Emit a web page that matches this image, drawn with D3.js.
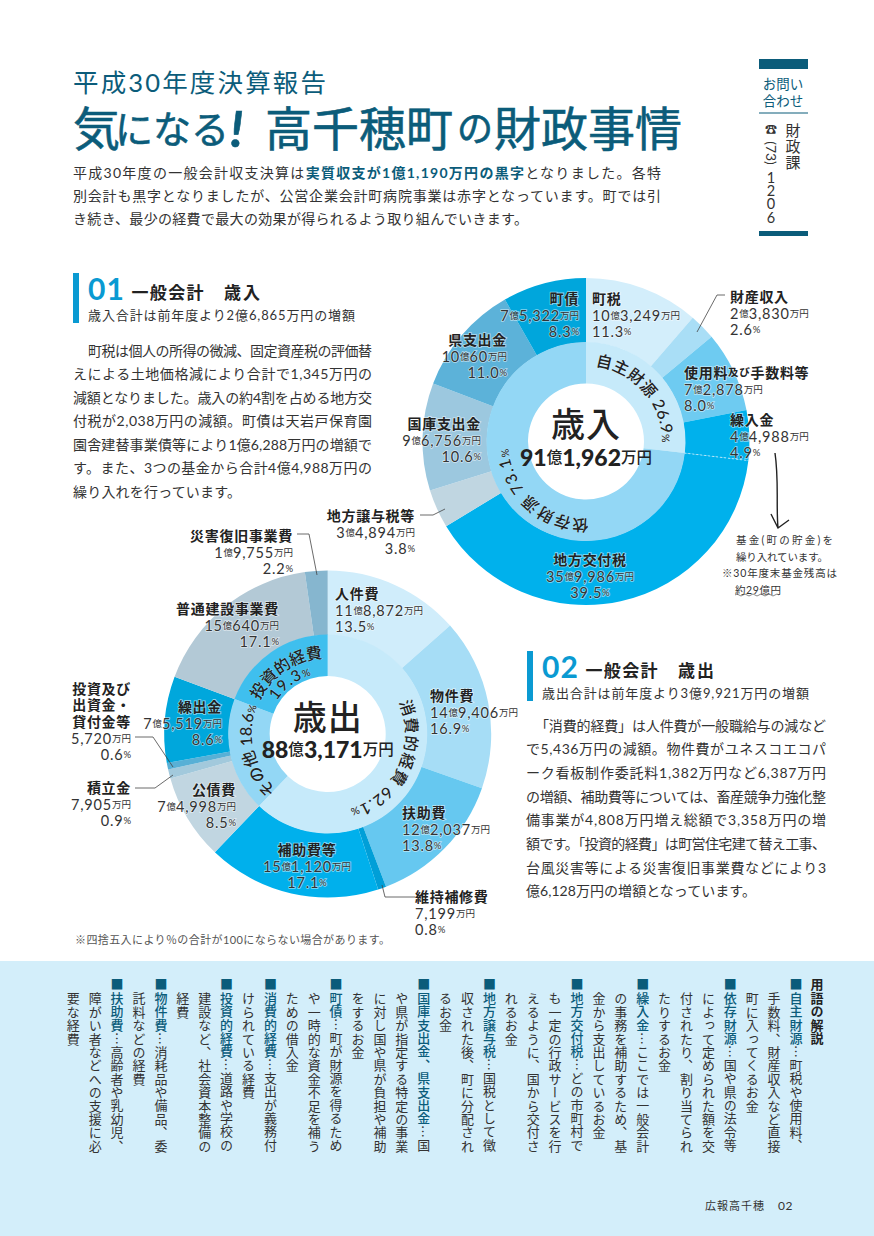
<!DOCTYPE html>
<html lang="ja"><head><meta charset="utf-8">
<script src="https://cdn.jsdelivr.net/npm/d3@7/dist/d3.min.js"></script>
<style>
html,body{margin:0;padding:0;background:#fff}
svg{display:block}
text{font-family:Lato,"Noto Sans CJK JP","Noto Sans",sans-serif}
</style></head><body><svg id="page" width="874" height="1236"></svg>
<script>
// ---- data ----
const revenueNames=["町税","財産収入","使用料及び手数料等","繰入金","地方交付税","地方譲与税等","国庫支出金","県支出金","町債"];
const revenueValues=[103249,23830,72878,44988,359986,34894,96756,100060,75322];
const revenueAmounts=["10億3,249万円","2億3,830万円","7億2,878万円","4億4,988万円","35億9,986万円","3億4,894万円","9億6,756万円","10億60万円","7億5,322万円"];
const revenuePercents=["11.3%","2.6%","8.0%","4.9%","39.5%","3.8%","10.6%","11.0%","8.3%"];
const revenueColors=["#d3eefb","#a9def6","#6ecbf1","#00b1ec","#00b1ec","#c0d6e1","#9cc8df","#5cb2d9","#00a6dc"];
const revenueGroups=["自主財源","依存財源"];
const revenueGroupValues=[244945,667018];
const revenueGroupPercents=["26.9%","73.1%"];
const revenueGroupColors=["#c6eafa","#93d7f5"];

const spendingNames=["人件費","物件費","扶助費","維持補修費","補助費等","公債費","積立金","投資及び出資金・貸付金等","繰出金","普通建設事業費","災害復旧事業費"];
const spendingValues=[118872,149406,122037,7199,151120,74998,7905,5720,75519,150640,19755];
const spendingAmounts=["11億8,872万円","14億9,406万円","12億2,037万円","7,199万円","15億1,120万円","7億4,998万円","7,905万円","5,720万円","7億5,519万円","15億640万円","1億9,755万円"];
const spendingPercents=["13.5%","16.9%","13.8%","0.8%","17.1%","8.5%","0.9%","0.6%","8.6%","17.1%","2.2%"];
const spendingColors=["#d0edfb","#a6ddf6","#66c8f0","#009fd8","#00b0ec","#c1d6e1","#a2c9dc","#58b0d6","#00a7dc","#b3c9d6","#86b6cf"];
const spendingGroups=["消費的経費","その他","投資的経費"];
const spendingGroupValues=[548634,164142,170395];
const spendingGroupPercents=["62.1%","18.6%","19.3%"];
const spendingGroupColors=["#c6eafa","#93d7f5","#3fbfee"];

const glossary=[
["自主財源","…町税や使用料、"],["","手数料、財産収入など直接"],["","町に入ってくるお金"],
["依存財源","…国や県の法令等"],["","によって定められた額を交"],["","付されたり、割り当てられ"],["","たりするお金"],
["繰入金","…ここでは一般会計"],["","の事務を補助するため、基"],["","金から支出しているお金"],
["地方交付税","…どの市町村で"],["","も一定の行政サービスを行"],["","えるように、国から交付さ"],["","れるお金"],
["地方譲与税","…国税として徴"],["","収された後、町に分配され"],["","るお金"],
["国庫支出金、県支出金","…国"],["","や県が指定する特定の事業"],["","に対し国や県が負担や補助"],["","をするお金"],
["町債","…町が財源を得るため"],["","や一時的な資金不足を補う"],["","ための借入金"],
["消費的経費","…支出が義務付"],["","けられている経費"],
["投資的経費","…道路や学校の"],["","建設など、社会資本整備の"],["","経費"],
["物件費","…消耗品や備品、委"],["","託料などの経費"],
["扶助費","…高齢者や乳幼児、"],["","障がい者などへの支援に必"],["","要な経費"]];

const para1=["町税は個人の所得の微減、固定資産税の評価替","えによる土地価格減により合計で1,345万円の","減額となりました。歳入の約4割を占める地方交","付税が2,038万円の減額。町債は天岩戸保育園","園舎建替事業債等により1億6,288万円の増額で","す。また、3つの基金から合計4億4,988万円の","繰り入れを行っています。"];
const para2=["「消費的経費」は人件費が一般職給与の減など","で5,436万円の減額。物件費がユネスコエコパ","ーク看板制作委託料1,382万円など6,387万円","の増額、補助費等については、畜産競争力強化整","備事業が4,808万円増え総額で3,358万円の増","額です。「投資的経費」は町営住宅建て替え工事、","台風災害等による災害復旧事業費などにより3","億6,128万円の増額となっています。"];

// ---- layout ----
const ink="#333", teal="#0b5c7a";
const svg=d3.select("#page");
svg.append("rect").attr("y",961).attr("width",874).attr("height",275).attr("fill","#d3eefa");

function t(x,y,str,o={}){
  const e=svg.append("text").attr("x",x).attr("y",y).text(str)
   .attr("font-size",o.size||14).attr("fill",o.fill||ink).attr("font-weight",o.weight||400)
   .attr("text-anchor",o.anchor||"start").attr("dominant-baseline","central");
  if(o.len) e.attr("textLength",o.len).attr("lengthAdjust","spacing");
  if(o.ls) e.attr("letter-spacing",o.ls);
  return e;
}
// heading block
t(73,82,"平成30年度決算報告",{size:25.5,fill:teal,len:253});
const title=svg.append("text").attr("y",128).attr("dominant-baseline","central").attr("fill",teal).attr("font-weight",400).attr("stroke",teal).attr("stroke-width",.6);
[["気",47,73],["になる",38,115],["!",50,230],["高千穂町",47,265],["の",36,457],["財政事情",47,494]].forEach(([s,z,x])=>{
  const sp=title.append("tspan").attr("font-size",z).attr("x",x).text(s);
  if(s==="!") sp.attr("font-style","italic").attr("font-weight",700);
});
const bodyL1=svg.append("text").attr("x",73).attr("y",172).attr("dominant-baseline","central").attr("font-size",14).attr("fill",ink).attr("textLength",588).attr("lengthAdjust","spacing");
bodyL1.append("tspan").text("平成30年度の一般会計収支決算は");
bodyL1.append("tspan").attr("fill",teal).attr("font-weight",700).text("実質収支が1億1,190万円の黒字");
bodyL1.append("tspan").text("となりました。各特");
t(73,195,"別会計も黒字となりましたが、公営企業会計町病院事業は赤字となっています。町では引",{size:14,len:588});
t(73,218,"き続き、最少の経費で最大の効果が得られるよう取り組んでいきます。",{size:14,len:455});

// contact column
svg.append("rect").attr("x",759).attr("y",59).attr("width",49).attr("height",10).attr("fill",teal);
svg.append("rect").attr("x",759).attr("y",231).attr("width",49).attr("height",5).attr("fill",teal);
svg.append("rect").attr("x",759).attr("y",112.5).attr("width",49).attr("height",1).attr("fill",teal);
t(783,84,"お問い",{size:13.5,fill:teal,anchor:"middle"});
t(783,101,"合わせ",{size:13.5,fill:teal,anchor:"middle"});
t(793,130,"財",{size:15,anchor:"middle"});t(793,146,"政",{size:15,anchor:"middle"});t(793,162,"課",{size:15,anchor:"middle"});
t(771,129,"☎",{size:12,anchor:"middle"});
svg.append("text").attr("transform","translate(771,153) rotate(90)").attr("text-anchor","middle").attr("dominant-baseline","central").attr("font-size",14).attr("fill",ink).text("(73)");
["1","2","0","6"].forEach((d,i)=>t(771,177+i*13.4,d,{size:14.5,anchor:"middle"}));

// section headings
function section(barX,barY,num,headA,headB,sub){
  svg.append("rect").attr("x",barX).attr("y",barY).attr("width",6).attr("height",50).attr("fill","#0a9ad2");
  t(barX+15,barY+15,num,{size:30,weight:700,fill:"#0a9ad2",ls:1});
  t(barX+58.5,barY+19,headA,{size:17,weight:700,fill:"#222",len:72});
  t(barX+151,barY+19,headB,{size:17,weight:700,fill:"#222",len:36});
  t(barX+15,barY+42,sub,{size:13,len:267});
}
section(73,273,"01","一般会計","歳入","歳入合計は前年度より2億6,865万円の増額");
section(527,651,"02","一般会計","歳出","歳出合計は前年度より3億9,921万円の増額");
para1.forEach((s,i)=>t(i?73:88,350+i*23.5,s,{size:14,len:i===6?168:(i?299:284)}));
para2.forEach((s,i)=>t(i?526:535,725+i*23.7,s,{size:14,len:i===7?230:(i?300:291)}));
t(75,939,"※四捨五入により％の合計が100にならない場合があります。",{size:11,fill:"#555",len:315});

// donuts
function donut(cx,cy,values,colors,groupValues,groupColors){
  const g=svg.append("g").attr("transform",`translate(${cx},${cy})`);
  const pie=d3.pie().sort(null).value(d=>d);
  const outer=d3.arc().innerRadius(99).outerRadius(163.5);
  const inner=d3.arc().innerRadius(58).outerRadius(99.5);
  g.selectAll(".o").data(pie(values)).join("path").attr("d",outer).attr("fill",(d,i)=>colors[i]);
  g.selectAll(".i").data(pie(groupValues)).join("path").attr("d",inner).attr("fill",(d,i)=>groupColors[i]);
  return pie;
}
const rev={cx:586,cy:441.5}, spe={cx:327.7,cy:734};
const revPie=donut(rev.cx,rev.cy,revenueValues,revenueColors,revenueGroupValues,revenueGroupColors);
donut(spe.cx,spe.cy,spendingValues,spendingColors,spendingGroupValues,spendingGroupColors);

// dashed boundary between 繰入金 and 地方交付税
{const a=revPie(revenueValues)[3].endAngle;
 const P=r=>[rev.cx+r*Math.sin(a),rev.cy-r*Math.cos(a)];
 const [x1,y1]=P(99),[x2,y2]=P(163.5);
 svg.append("line").attr("x1",x1).attr("y1",y1).attr("x2",x2).attr("y2",y2).attr("stroke","#d6f0fb").attr("stroke-width",.8).attr("stroke-dasharray","2 2");}

// curved ring titles
let arcId=0;
function curved(c,r,a0,a1,str,size,len,fill){
  const id="arc"+(arcId++), p=d3.path();
  const R=Math.PI/180;
  p.arc(c.cx,c.cy,r,(a0-90)*R,(a1-90)*R,false);
  svg.append("path").attr("id",id).attr("d",p.toString()).attr("fill","none");
  const e=svg.append("text").attr("font-size",size).attr("font-weight",500).attr("fill",fill||"#222")
    .attr("stroke","#fff").attr("stroke-opacity",.35).attr("stroke-width",.8).attr("paint-order","stroke");
  const tp=e.append("textPath").attr("href","#"+id).attr("textLength",len).attr("lengthAdjust","spacing");
  const m=str.match(/^(.*?)(%?)$/);
  tp.append("tspan").text(m[1]);
  if(m[2]) tp.append("tspan").attr("font-size",size*.65).text("%");
}
curved(rev,76,7,95,revenueGroups[0]+" "+revenueGroupPercents[0],16,111);
curved(rev,78,178,268,revenueGroups[1]+" "+revenueGroupPercents[1],16,118);
curved(spe,78,66,165,spendingGroups[0]+" "+spendingGroupPercents[0],16,132);
curved(spe,76,222,295,spendingGroups[1]+" "+spendingGroupPercents[1],16,92);
curved(spe,76,296,358,spendingGroups[2],16,80);
curved(spe,61,303,350,spendingGroupPercents[2],15.5,44);

// centre labels
function centre(c,word,total,dy1,dy2){
  t(c.cx,c.cy+dy1,word,{size:34,weight:500,anchor:"middle",fill:"#222",ls:1});
  const e=svg.append("text").attr("x",c.cx).attr("y",c.cy+dy2).attr("text-anchor","middle").attr("dominant-baseline","central").attr("fill","#222");
  total.match(/[0-9,]+|[^0-9,]+/g).forEach(s=>{
    const num=/^[0-9,]/.test(s);
    e.append("tspan").attr("font-size",num?23:15.5).attr("font-weight",num?900:500).text(s);
  });
}
centre(rev,"歳入","91億1,962万円",-18,15);
centre(spe,"歳出","88億3,171万円",-18,15);

// slice labels
function label(x,ys,anchor,name,amount,pct){
  const names=Array.isArray(name)?name:[name];
  names.forEach((n,i)=>{
    const e=svg.append("text").attr("x",x).attr("y",ys+i*16.6).attr("text-anchor",anchor).attr("dominant-baseline","central")
      .attr("fill","#222").attr("font-weight",700).attr("font-size",14).attr("letter-spacing",.7)
      .attr("stroke","#fff").attr("stroke-opacity",.55).attr("stroke-width",1.6).attr("paint-order","stroke");
    if(n==="使用料及び手数料等"){
      e.append("tspan").text("使用料");
      e.append("tspan").attr("font-size",10.5).text("及び");
      e.append("tspan").text("手数料等");
    } else e.text(n);
  });
  const base=ys+names.length*16.6;
  [[amount,0],[pct,1]].forEach(([s,i])=>{
    const e=svg.append("text").attr("x",x).attr("y",base+i*16.6).attr("text-anchor",anchor).attr("dominant-baseline","central")
      .attr("fill","#333").attr("stroke","#fff").attr("stroke-opacity",.55).attr("stroke-width",1.6).attr("paint-order","stroke");
    s.match(/[0-9.,]+|[^0-9.,]+/g).forEach(p=>{
      const num=/^[0-9.,]/.test(p);
      e.append("tspan").attr("font-size",num?14.5:9.5).attr("letter-spacing",num?.8:0).text(p);
    });
  });
}
const revenueLabelLayout=[[592,298,"start"],[730,296,"start"],[684,372,"start"],[730,419,"start"],[590,559,"middle"],[415,515,"end"],[481,423,"end"],[507,339,"end"],[579,298,"end"]];
const spendingLabelLayout=[[335,593,"start"],[430,695,"start"],[402,812,"start"],[415,896,"start"],[307,849,"middle"],[236,789,"end"],[131,787,"end"],[131,688,"end"],[222,706,"end"],[279,608,"end"],[293,535,"end"]];
revenueNames.forEach((n,i)=>{const[x,y,a]=revenueLabelLayout[i];label(x,y,a,n,revenueAmounts[i],revenuePercents[i]);});
spendingNames.forEach((n,i)=>{const[x,y,a]=spendingLabelLayout[i];
  const nm=n==="投資及び出資金・貸付金等"?["投資及び","出資金・","貸付金等"]:n;
  label(x,y,a,nm,spendingAmounts[i],spendingPercents[i]);});

// leader lines
[[[725,295],[717,295],[697,332]],[[420,515],[433,515],[445,509]],[[297,534],[309,534],[317,575]],[[135,737],[153,737],[173,767]],[[135,788],[155,788],[173,775]],[[415,897],[385,897],[382,885]]]
 .forEach(pts=>svg.append("path").attr("d",d3.line()(pts)).attr("fill","none").attr("stroke","#444").attr("stroke-width",.8));

// hand-drawn arrow and note
svg.append("path").attr("d","M775 453C779 480 776 505 778 528M771 514L778 528L789 520").attr("fill","none").attr("stroke","#222").attr("stroke-width",1.4);
[["基金(町の貯金)を",736,97],["繰り入れています。",736,92],["※30年度末基金残高は",722,115],["約29億円",735,46]].forEach(([s,x,w],i)=>t(x,540+i*16.5,s,{size:10.5,len:w,fill:"#333"}));
svg.append("path").attr("d","M735 595q2-2 4 0t4 0t4 0t4 0t4 0t4 0t4 0t4 0t4 0t4 0t4 0").attr("fill","none").attr("stroke","#555").attr("stroke-width",.7);

// glossary columns
function vert(x,y,parts,size,weight){
  const e=svg.append("text").attr("x",x).attr("y",y).attr("font-size",size).attr("font-weight",weight||400)
    .attr("letter-spacing",.4).attr("style","font-family:'Noto Sans CJK JP',sans-serif;writing-mode:vertical-rl;text-orientation:mixed;dominant-baseline:central");
  parts.forEach(([s,c,w])=>{const sp=e.append("tspan").attr("fill",c).text(s);if(w)sp.attr("font-weight",w);});
  return e;
}
vert(817,978,[["用語の解説","#222"]],13,700);
glossary.forEach(([head,rest],i)=>{
  const x=796-i*21.9;
  if(head) vert(x,978,[["■"+head,teal,500],[rest,"#333"]],13);
  else vert(x,992,[[rest,"#333"]],13);
});
t(705,1205,"広報高千穂",{size:11,len:59});
t(778,1205,"02",{size:12,ls:.5});
</script></body></html>
